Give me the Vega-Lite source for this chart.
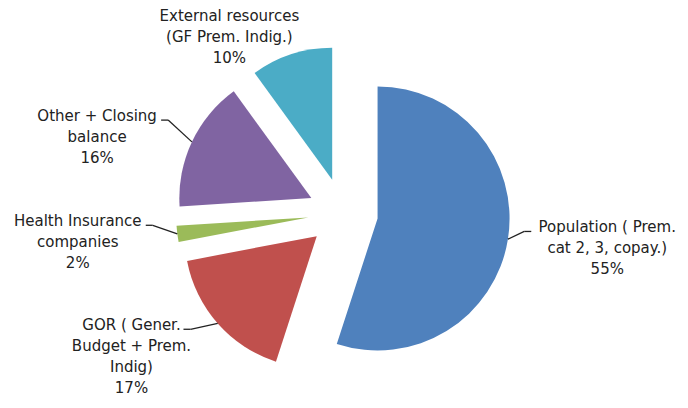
{
  "$schema": "https://vega.github.io/schema/vega-lite/v6.json",
  "width": 688,
  "height": 408,
  "autosize": "none",
  "padding": 0,
  "background": "white",
  "config": {"view": {"stroke": null}},
  "data": {
    "values": [
      {"label": "Population ( Prem.\ncat 2, 3, copay.)", "key": "Population", "value": 55},
      {"label": "GOR ( Gener.\nBudget + Prem.\nIndig)", "key": "GOR", "value": 17},
      {"label": "Health Insurance\ncompanies", "key": "Health", "value": 2},
      {"label": "Other + Closing\nbalance", "key": "Other", "value": 16},
      {"label": "External resources\n(GF Prem. Indig.)", "key": "External", "value": 10}
    ]
  },
  "transform": [
    {"window": [{"op": "sum", "field": "value", "as": "end"}], "frame": [null, 0]},
    {"calculate": "datum.end - datum.value", "as": "start"},
    {"calculate": "(datum.start + datum.value / 2) / 100 * 2 * PI", "as": "mid"},
    {"calculate": "sin(datum.mid)", "as": "ux"},
    {"calculate": "-cos(datum.mid)", "as": "uy"},
    {"calculate": "datum.ux >= 0 ? 1 : -1", "as": "side"},
    {"calculate": "35 * datum.ux", "as": "ex"},
    {"calculate": "35 * datum.uy", "as": "ey"},
    {"calculate": "datum.label + '\\n' + datum.value + '%'", "as": "txt"},
    {"calculate": "length(split(datum.txt, '\\n'))", "as": "nlines"},
    {"calculate": "length(split(datum.label, '\\n')[0])", "as": "flen"},
    {"calculate": "222 * datum.ux + 45 * datum.side", "as": "tx"},
    {"calculate": "190 * datum.uy + 5 + 30 * pow(max(0, datum.uy), 2) - (datum.nlines - 1) / 2 * 21", "as": "fy"},
    {"calculate": "167 * datum.ux", "as": "l1x"},
    {"calculate": "167 * datum.uy", "as": "l1y"},
    {"calculate": "datum.tx - datum.side * (datum.flen * 8 / 2 + 4)", "as": "l3x"},
    {"calculate": "datum.fy + 4", "as": "l3y"},
    {"calculate": "datum.l3x - datum.side * 7", "as": "l2x"}
  ],
  "layer": [
    {
      "mark": {"type": "arc", "outerRadius": 132, "stroke": null},
      "encoding": {
        "x": {"field": "ex", "type": "quantitative", "scale": {"domain": [-100, 100], "range": [243, 443]}, "axis": null},
        "y": {"field": "ey", "type": "quantitative", "scale": {"domain": [-100, 100], "range": [113, 313]}, "axis": null},
        "theta": {"field": "start", "type": "quantitative", "scale": {"domain": [0, 100], "range": [0, 6.283185307179586]}},
        "theta2": {"field": "end"},
        "color": {
          "field": "key", "type": "nominal", "legend": null,
          "scale": {
            "domain": ["Population", "GOR", "Health", "Other", "External"],
            "range": ["#4F81BD", "#C0504D", "#9BBB59", "#8064A2", "#4BACC6"]
          }
        }
      }
    },
    {
      "transform": [{"filter": "datum.key !== 'External'"}],
      "mark": {"type": "rule", "color": "#222222", "strokeWidth": 1.3},
      "encoding": {
        "x": {"field": "l1x", "type": "quantitative", "scale": {"domain": [-100, 100], "range": [243, 443]}, "axis": null},
        "y": {"field": "l1y", "type": "quantitative", "scale": {"domain": [-100, 100], "range": [113, 313]}, "axis": null},
        "x2": {"field": "l2x"},
        "y2": {"field": "l3y"}
      }
    },
    {
      "transform": [{"filter": "datum.key !== 'External'"}],
      "mark": {"type": "rule", "color": "#222222", "strokeWidth": 1.3},
      "encoding": {
        "x": {"field": "l2x", "type": "quantitative", "scale": {"domain": [-100, 100], "range": [243, 443]}, "axis": null},
        "y": {"field": "l3y", "type": "quantitative", "scale": {"domain": [-100, 100], "range": [113, 313]}, "axis": null},
        "x2": {"field": "l3x"},
        "y2": {"field": "l3y"}
      }
    },
    {
      "mark": {"type": "text", "align": "center", "baseline": "middle", "lineBreak": "\n", "font": "DejaVu Sans", "fontSize": 15, "lineHeight": 21, "color": "#222222"},
      "encoding": {
        "x": {"field": "tx", "type": "quantitative", "scale": {"domain": [-100, 100], "range": [243, 443]}, "axis": null},
        "y": {"field": "fy", "type": "quantitative", "scale": {"domain": [-100, 100], "range": [113, 313]}, "axis": null},
        "text": {"field": "txt"}
      }
    }
  ]
}
